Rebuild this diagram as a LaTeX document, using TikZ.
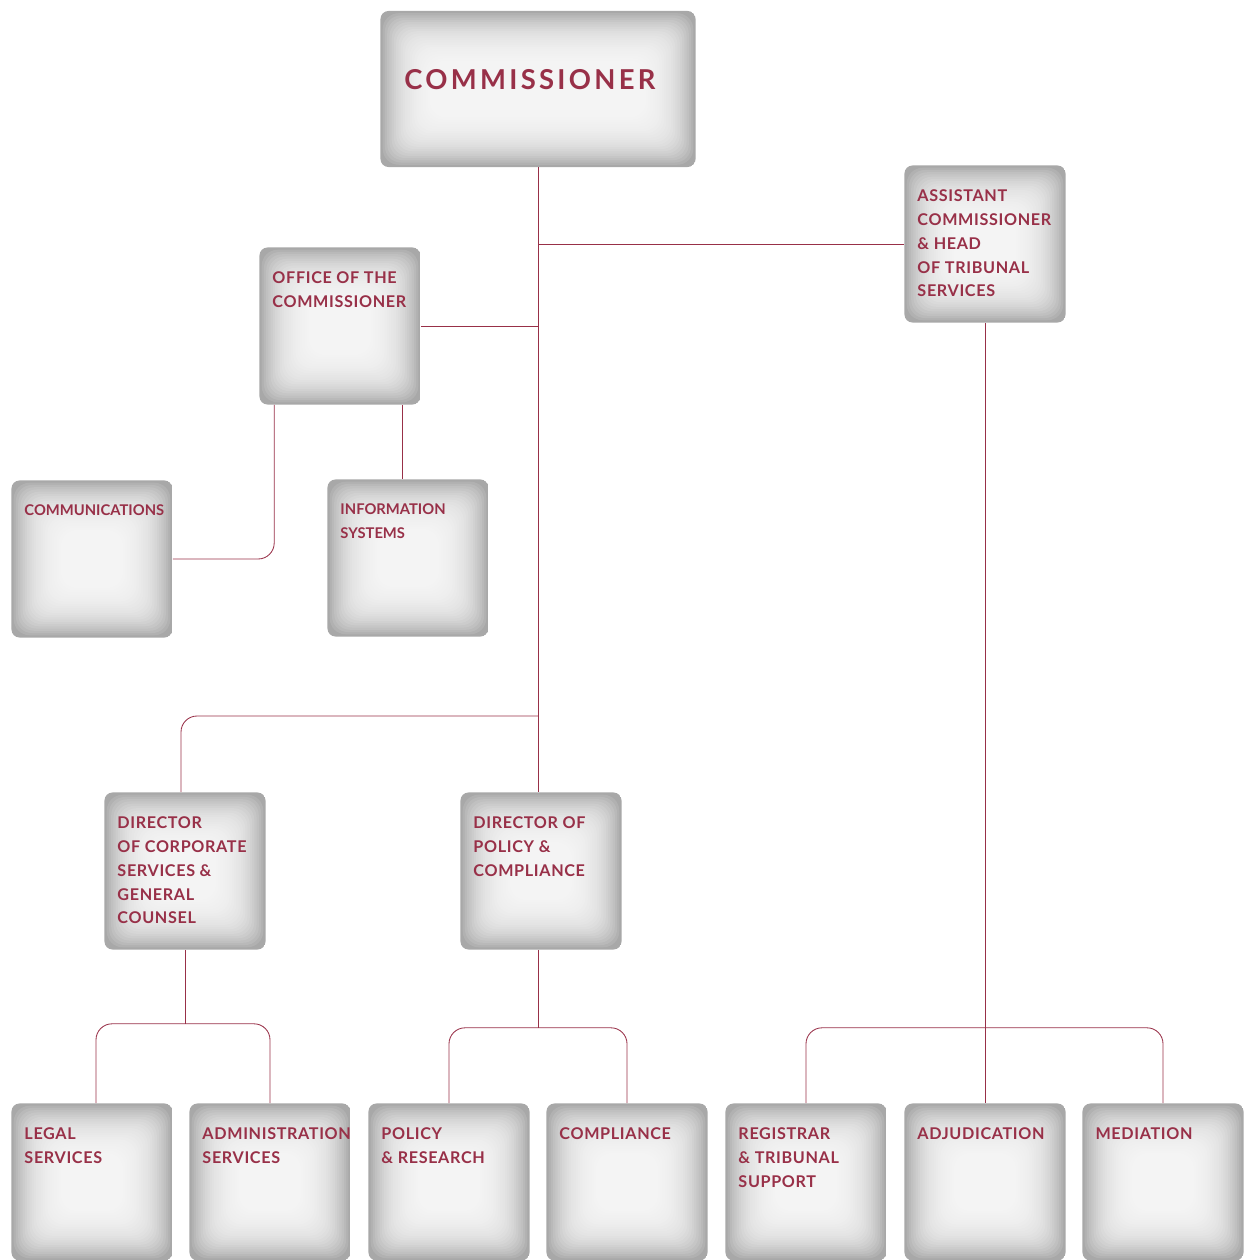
\documentclass[tikz,border=0pt]{standalone}
\usepackage{fontspec}
\usepackage{tikz}
\newfontfamily\orgfont{Lato}[LetterSpace=4]
\newfontfamily\orgtight{Lato}[LetterSpace=0]
\newfontfamily\orgwide{Lato}[LetterSpace=12]
\definecolor{wine}{RGB}{152,48,72}
\newcommand{\unittext}[1]{\parbox[c][3.925cm][t]{3.375cm}{\raggedright\vspace*{0.6cm}#1}}

\begin{document}
\begin{tikzpicture}[x=0.025cm,y=-0.025cm,
  unit/.style={rounded corners=2mm, inner xsep=0.325cm, inner ysep=0pt,
    text=wine, font=\orgfont\bfseries\fontsize{11.5}{17}\selectfont,
    path picture={
      \fill[gray!68] (path picture bounding box.south west) rectangle (path picture bounding box.north east);
      \foreach \k in {1,...,22}
      \fill[white, fill opacity=0.11, rounded corners=4mm]
        ([shift={(\k*1.6pt,\k*1.6pt)}]path picture bounding box.south west) rectangle
        ([shift={(-\k*1.6pt,-\k*1.6pt)}]path picture bounding box.north east);
    }},
  link/.style={draw=wine, line width=0.6pt, rounded corners=4mm}]
\useasboundingbox (0,0) rectangle (1246,1260);

% top
\node[unit, inner xsep=0.6cm, font=\orgwide\bfseries\fontsize{19.5}{22}\selectfont] (comm) at (538,89)
  {\parbox[c][3.9cm][t]{6.675cm}{\vspace*{1.45cm}COMMISSIONER}};
\node[unit] (asst) at (985,244) {\unittext{ASSISTANT\\COMMISSIONER\\\& HEAD\\OF TRIBUNAL\\SERVICES}};
\node[unit] (office) at (340,326) {\unittext{OFFICE OF THE\\COMMISSIONER}};
\node[unit, font=\orgtight\bfseries\fontsize{10.5}{17}\selectfont] (comms) at (92,559) {\unittext{COMMUNICATIONS}};
\node[unit, font=\orgtight\bfseries\fontsize{10.5}{17}\selectfont] (infosys) at (408,558) {\unittext{INFORMATION\\SYSTEMS}};

% directors
\node[unit] (corp) at (185,871) {\unittext{DIRECTOR\\OF CORPORATE\\SERVICES \&\\GENERAL\\COUNSEL}};
\node[unit] (policy) at (541,871) {\unittext{DIRECTOR OF\\POLICY \&\\COMPLIANCE}};

% bottom row
\node[unit] (legal) at (92,1182) {\unittext{LEGAL\\SERVICES}};
\node[unit] (admin) at (270,1182) {\unittext{ADMINISTRATION\\SERVICES}};
\node[unit] (polres) at (449,1182) {\unittext{POLICY\\\& RESEARCH}};
\node[unit] (compl) at (627,1182) {\unittext{COMPLIANCE}};
\node[unit] (reg) at (806,1182) {\unittext{REGISTRAR\\\& TRIBUNAL\\SUPPORT}};
\node[unit] (adj) at (985,1182) {\unittext{ADJUDICATION}};
\node[unit] (med) at (1163,1182) {\unittext{MEDIATION}};

% lines
\draw[link] (comm.south) -- (comm.south |- policy.north);
\draw[link] (comm.south |- asst.west) -- (asst.west);
\draw[link] (office.east) -- (office.east -| comm.south);
\draw[link] ([xshift=0.375cm]office.south west) |- (comms.east);
\draw[link] ([xshift=-0.45cm]office.south east) coordinate (o2) -- (o2 |- infosys.north);
\coordinate (split) at (538,716);
\draw[link] (split) -| ([xshift=-0.1cm]corp.north);
\draw[link] (corp.south) -- ++(0,74) coordinate (cj);
\draw[link] ([xshift=0.1cm]legal.north) |- (cj) -| (admin.north);
\draw[link] (comm.south |- policy.south) -- ++(0,78) coordinate (pj);
\draw[link] (polres.north) |- (pj) -| (compl.north);
\draw[link] (asst.south) -- (adj.north);
\draw[link] (reg.north) |- (adj.north |- pj) -| (med.north);
\end{tikzpicture}
\end{document}
